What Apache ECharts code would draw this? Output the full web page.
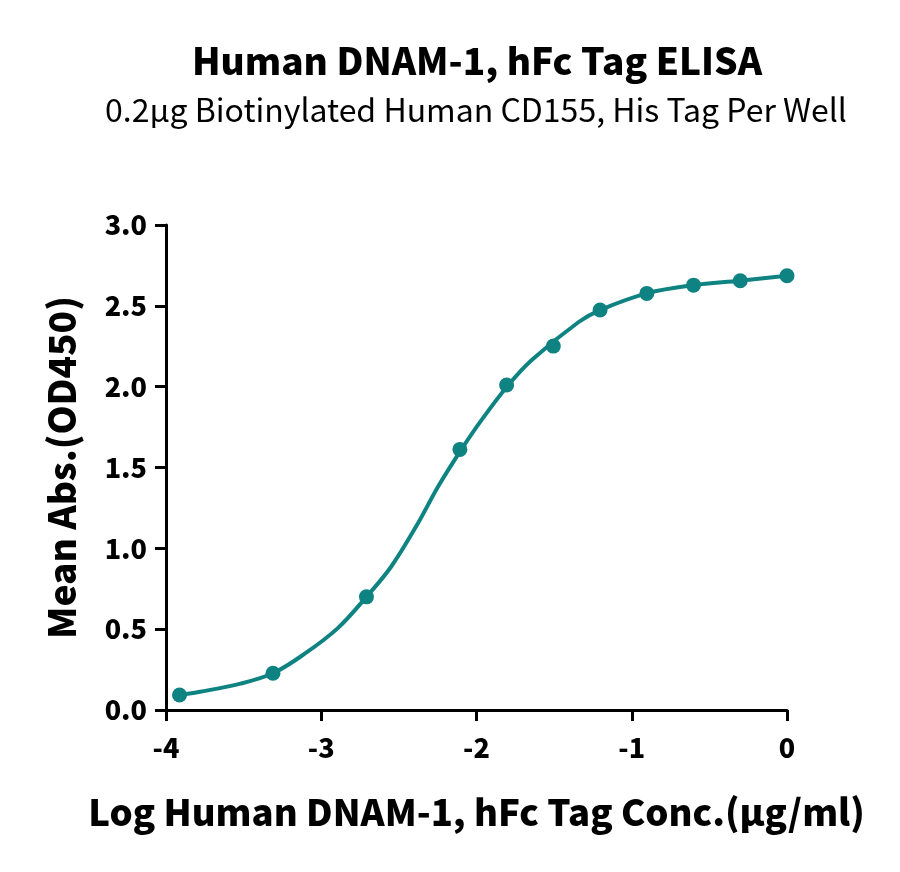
<!DOCTYPE html>
<html>
<head>
<meta charset="utf-8">
<script src="https://cdn.jsdelivr.net/npm/echarts@6/dist/echarts.min.js"></script>
<style>
  html, body { margin: 0; padding: 0; background: #fff; }
  #chart { width: 900px; height: 872px; }
</style>
</head>
<body>
<div id="chart"></div>
<script>
// log concentration of each well (2-fold dilutions)
var logConc = [-3.913, -3.311, -2.709, -2.107, -1.806, -1.505, -1.204, -0.903, -0.602, -0.301, 0];
// mean OD450
var meanAbs = [0.093, 0.227, 0.70, 1.612, 2.01, 2.251, 2.474, 2.577, 2.628, 2.655, 2.686];

// fitted curve
var curveX = [-3.913, -3.780, -3.520, -3.311, -3.111, -2.895, -2.709, -2.550, -2.377, -2.248, -2.097, -1.968, -1.795, -1.644, -1.342, -1.204, -0.903, -0.602, -0.301, 0];
var curveY = [0.093, 0.113, 0.163, 0.227, 0.345, 0.505, 0.70, 0.886, 1.155, 1.381, 1.612, 1.793, 2.01, 2.165, 2.40, 2.474, 2.577, 2.628, 2.655, 2.686];

var xTicks = [-4, -3, -2, -1, 0];
var yTicks = [0, 0.5, 1.0, 1.5, 2.0, 2.5, 3.0];

var teal = '#0f8282';
var font = '"Noto Sans CJK SC", "Source Sans Pro", sans-serif';

var points = logConc.map(function (x, i) { return [x, meanAbs[i]]; });
var curve = curveX.map(function (x, i) { return [x, curveY[i]]; });

var myChart = echarts.init(document.getElementById('chart'));
var option = {
    backgroundColor: '#fff',
    animation: false,
    title: [
        {
            text: 'Human DNAM-1, hFc Tag ELISA',
            left: 472, top: 37, textAlign: 'center',
            textStyle: { fontFamily: font, fontWeight: 900, fontSize: 37, color: '#000' }
        },
        {
            text: '0.2μg Biotinylated Human CD155, His Tag Per Well',
            left: 471, top: 89, textAlign: 'center',
            textStyle: { fontFamily: font, fontWeight: 'normal', fontSize: 32, color: '#000' }
        }
    ],
    grid: { left: 166, right: 113, top: 225, bottom: 162 },
    xAxis: {
        type: 'value',
        min: xTicks[0], max: xTicks[xTicks.length - 1], interval: 1,
        name: 'Log Human DNAM-1, hFc Tag Conc.(μg/ml)',
        nameLocation: 'middle', nameGap: 84,
        nameTextStyle: { fontFamily: font, fontWeight: 900, fontSize: 36.5, color: '#000' },
        axisLine: { onZero: false, lineStyle: { color: '#000', width: 3 } },
        axisTick: { length: 11, lineStyle: { color: '#000', width: 3 } },
        axisLabel: {
            margin: 24, color: '#000', fontFamily: font, fontWeight: 900, fontSize: 27,
            formatter: function (v) { return String(v); }
        },
        splitLine: { show: false }
    },
    yAxis: {
        type: 'value',
        min: yTicks[0], max: yTicks[yTicks.length - 1], interval: 0.5,
        name: 'Mean Abs.(OD450)',
        nameLocation: 'middle', nameGap: 86,
        nameTextStyle: { fontFamily: font, fontWeight: 900, fontSize: 37, color: '#000' },
        axisLine: { onZero: false, lineStyle: { color: '#000', width: 3 } },
        axisTick: { length: 11, lineStyle: { color: '#000', width: 3 } },
        axisLabel: {
            margin: 19, color: '#000', fontFamily: font, fontWeight: 900, fontSize: 27,
            formatter: function (v) { return v.toFixed(1); }
        },
        splitLine: { show: false }
    },
    series: [
        {
            type: 'line',
            data: curve,
            smooth: 0.35,
            showSymbol: false,
            lineStyle: { color: teal, width: 4 },
            silent: true
        },
        {
            type: 'scatter',
            data: points,
            symbol: 'circle',
            symbolSize: 15,
            itemStyle: { color: teal, opacity: 1 }
        }
    ]
};
myChart.setOption(option);
</script>
</body>
</html>
